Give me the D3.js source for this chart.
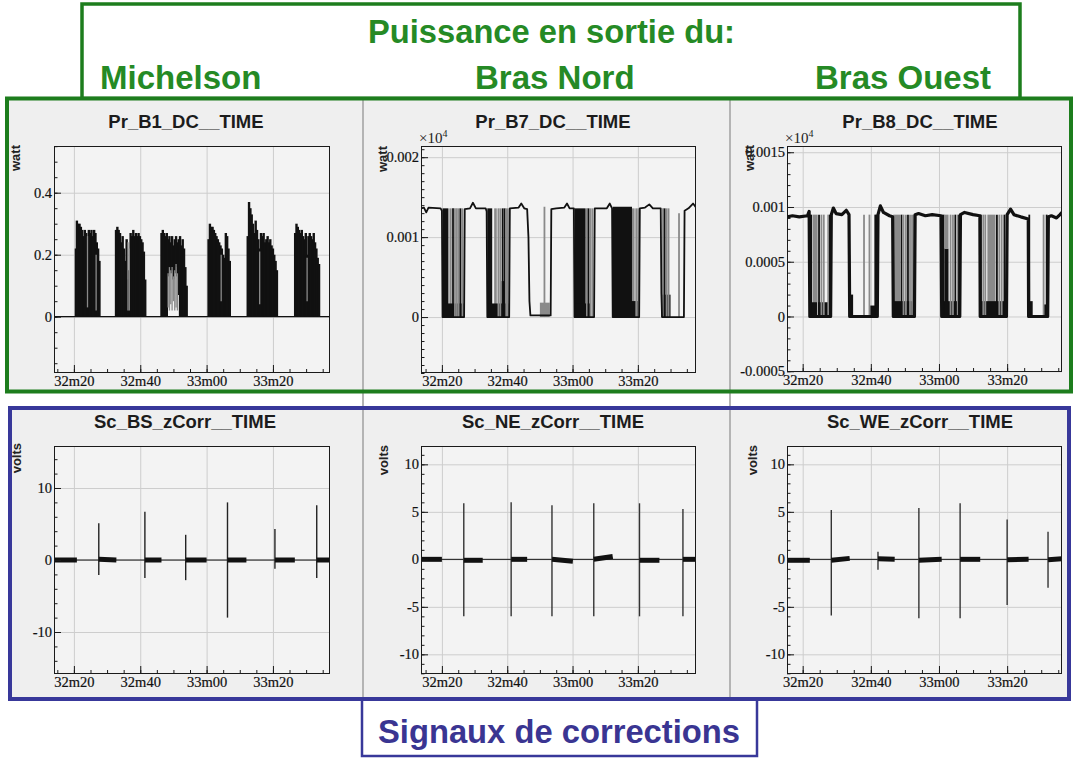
<!DOCTYPE html>
<html><head><meta charset="utf-8">
<script src="https://cdn.jsdelivr.net/npm/d3@7"></script>
<style>
html,body{margin:0;padding:0;background:#fff;}
svg{display:block;}
.tl{font-family:"Liberation Serif","DejaVu Serif","Times New Roman",serif;}
.sa{font-family:"Liberation Sans",Arial,sans-serif;}
</style></head><body>
<svg id="c" width="1078" height="758"></svg>
<script>
// ================= DATA =================
const timeTickLabels = ["32m20","32m40","33m00","33m20"];
const timeTickSeconds = [20, 40, 60, 80];           // seconds after 32m00
const headerTitle = "Puissance en sortie du:";
const headerNames = ["Michelson","Bras Nord","Bras Ouest"];
const footerTitle = "Signaux de corrections";
const panelTitles = ["Pr_B1_DC__TIME","Pr_B7_DC__TIME","Pr_B8_DC__TIME",
                     "Sc_BS_zCorr__TIME","Sc_NE_zCorr__TIME","Sc_WE_zCorr__TIME"];
const yAxisTitles = ["watt","watt","watt","volts","volts","volts"];

const b1YTicks = [0, 0.2, 0.4];
const b7YTicks = [0, 0.001, 0.002];
const b8YTicks = [-0.0005, 0, 0.0005, 0.001, 0.0015];
const bsYTicks = [-10, 0, 10];
const neYTicks = [-10, -5, 0, 5, 10];
const weYTicks = [-10, -5, 0, 5, 10];

// ---- Pr_B1_DC (Michelson) : baseline + dense bursts [t, lo, hi]
const b1Trace = [[14.0,0],[97.2,0]];
const b1Spikes = [
 [20.6,0,0.22],[20.9,0,0.31],[21.3,0,0.30],[21.7,0,0.30],[22.1,0,0.29],[22.5,0,0.28],[22.9,0,0.26],[23.3,0,0.28],[23.7,0,0.27],[24.1,0,0.21],[24.5,0,0.28],[24.9,0,0.27],[25.3,0,0.28],[25.7,0,0.26],[26.1,0,0.28],[26.5,0,0.27],[26.9,0,0.24],[27.3,0,0.22],[27.7,0,0.18],
 [32.7,0,0.28],[33.1,0,0.29],[33.5,0,0.28],[33.9,0,0.27],[34.3,0,0.24],[34.7,0,0.26],[35.1,0,0.22],[35.5,0,0.18],[35.9,0,0.25],[36.3,0,0.12],[36.7,0,0.15],[37.1,0,0.27],[37.5,0,0.26],[37.9,0,0.28],[38.3,0,0.26],[38.7,0,0.27],[39.1,0,0.26],[39.5,0,0.27],[39.9,0,0.26],[40.3,0,0.25],[40.7,0,0.24],[41.1,0,0.21],[41.5,0,0.12],
 [46.4,0,0.27],[46.8,0,0.28],[47.2,0,0.27],[47.6,0,0.26],[48.0,0,0.27],[48.4,0.13,0.25],[48.8,0.15,0.26],[49.2,0.14,0.24],[49.6,0.15,0.26],[50.0,0.12,0.23],[50.4,0.14,0.25],[50.8,0.16,0.26],[51.2,0.13,0.24],[51.6,0.07,0.25],[52.0,0,0.26],[52.4,0,0.23],[52.8,0,0.25],[53.2,0,0.22],[53.6,0,0.16],[54.0,0,0.10],
 [60.6,0,0.25],[61.0,0,0.30],[61.4,0,0.29],[61.8,0,0.29],[62.2,0,0.28],[62.6,0,0.27],[63.0,0,0.26],[63.4,0,0.25],[63.8,0,0.24],[64.2,0,0.23],[64.6,0,0.22],[65.0,0,0.20],[65.4,0,0.19],[65.8,0,0.27],[66.2,0,0.26],[66.6,0,0.22],[67.0,0,0.18],
 [72.4,0,0.26],[72.8,0,0.37],[73.2,0,0.35],[73.6,0,0.33],[74.0,0,0.30],[74.4,0,0.27],[74.8,0,0.31],[75.2,0,0.28],[75.6,0,0.25],[76.0,0,0.22],[76.4,0,0.27],[76.8,0,0.26],[77.2,0,0.27],[77.6,0,0.24],[78.0,0,0.25],[78.4,0,0.26],[78.8,0,0.24],[79.2,0,0.25],[79.6,0,0.23],[80.0,0,0.22],[80.4,0,0.20],[80.8,0,0.18],[81.2,0,0.15],
 [86.7,0,0.27],[87.1,0,0.30],[87.5,0,0.29],[87.9,0,0.28],[88.3,0,0.27],[88.7,0,0.28],[89.1,0,0.26],[89.5,0,0.25],[89.9,0,0.27],[90.3,0,0.20],[90.7,0,0.26],[91.1,0,0.27],[91.5,0,0.26],[91.9,0,0.25],[92.3,0,0.27],[92.7,0,0.24],[93.1,0,0.22],[93.5,0,0.19],[93.9,0,0.17]
];
const b1GrayLines = [
 [24.1,0.03,0.26],[26.7,0.02,0.20],[36.3,0.02,0.24],[36.7,0.02,0.22],
 [48.4,0.03,0.14],[48.8,0.02,0.16],[49.2,0.04,0.15],[49.6,0.02,0.16],[50.0,0.05,0.13],[50.4,0.02,0.15],[50.8,0.03,0.17],[51.2,0.02,0.14],
 [64.4,0.05,0.20],[76.0,0.04,0.21],[90.3,0.05,0.19]
];

// ---- Pr_B7_DC (Bras Nord) : trace [t, W], blocks [t0,t1,lo,hi,shade], lines [t,lo,hi,shade]
const b7Trace = [
 [13.6,1.36e-3],[14.5,1.37e-3],[15.2,1.31e-3],[15.9,1.37e-3],[19.6,1.36e-3],[20.0,1.33e-3],[20.2,0],[26.8,0],
 [27.0,1.35e-3],[28.6,1.36e-3],[29.5,1.43e-3],[30.4,1.36e-3],[33.4,1.36e-3],[33.7,1.32e-3],[33.9,0],[40.6,0],
 [40.8,1.36e-3],[43.5,1.37e-3],[44.3,1.42e-3],[45.2,1.36e-3],[46.1,1.35e-3],[46.5,1.0e-3],[46.8,0.2e-3],[47.1,0.02e-3],[53.3,0.02e-3],
 [53.5,1.35e-3],[55.0,1.36e-3],[57.5,1.37e-3],[58.3,1.42e-3],[59.1,1.36e-3],[60.4,1.36e-3],[60.6,0],[66.6,0],
 [66.8,1.36e-3],[70.5,1.36e-3],[71.4,1.42e-3],[72.1,1.36e-3],[72.3,0],[80.4,0],
 [80.6,1.36e-3],[82.2,1.37e-3],[83.5,1.41e-3],[84.6,1.36e-3],[87.0,1.36e-3],[87.2,0.3e-3],[87.4,0],[94.1,0],
 [94.3,1.33e-3],[95.5,1.36e-3],[96.9,1.42e-3],[97.8,1.37e-3]
];
const b7Blocks = [
 [20.2,22.0,0,1.36e-3,0],[22.3,23.0,0,1.36e-3,1],[20.2,26.6,0,0.17e-3,0],
 [33.9,35.4,0,1.36e-3,0],[36.0,36.8,0,1.36e-3,1],[33.9,40.4,0,0.17e-3,0],[38.3,39.3,0,0.45e-3,0],
 [50.0,53.0,0,0.18e-3,1],
 [60.6,64.0,0,1.36e-3,0],[60.6,65.6,0,0.17e-3,0],
 [72.3,78.2,0,1.38e-3,0],[78.2,79.0,0,1.36e-3,1],[72.3,80.3,0,0.20e-3,0],
 [87.2,90.0,0,0.28e-3,0]
];
const b7Lines = [
 [23.4,0,1.36e-3,0],[24.0,0,1.36e-3,1],[24.6,0,1.36e-3,1],[25.2,0,1.36e-3,1],[25.7,0,1.36e-3,0],[26.3,0,1.36e-3,1],
 [37.3,0,1.36e-3,1],[37.9,0,1.36e-3,1],[38.6,0,1.36e-3,0],[39.2,0,1.36e-3,0],[39.7,0,1.36e-3,1],[40.2,0,1.36e-3,1],
 [51.4,0,1.38e-3,1],
 [64.4,0,1.36e-3,1],[64.9,0,1.36e-3,0],[65.5,0,1.36e-3,1],[66.1,0,1.36e-3,1],
 [79.5,0,1.36e-3,1],[80.1,0,1.36e-3,1],
 [87.7,0,1.36e-3,1],[88.2,0,1.36e-3,0],[88.8,0,1.36e-3,1],[89.4,0,1.36e-3,1],[92.6,0,1.30e-3,1]
];

// ---- Pr_B8_DC (Bras Ouest)
const b8Trace = [
 [15.4,0.91e-3],[17.0,0.92e-3],[19.0,0.91e-3],[21.4,0.92e-3],[21.9,0.96e-3],[22.1,0],[28.2,0],
 [28.4,0.93e-3],[29.0,0.99e-3],[29.8,0.94e-3],[31.5,0.93e-3],[32.8,0.97e-3],[33.6,0.93e-3],[33.8,0],[41.9,0],
 [42.1,0.93e-3],[42.8,1.01e-3],[43.7,0.95e-3],[45.5,0.92e-3],[46.4,0.91e-3],[46.6,0],[52.8,0],
 [53.0,0.93e-3],[54.0,0.94e-3],[56.0,0.92e-3],[58.0,0.93e-3],[60.6,0.92e-3],[60.8,0],[66.1,0],
 [66.3,0.93e-3],[67.5,0.95e-3],[70.0,0.93e-3],[72.0,0.92e-3],[72.1,0],[79.8,0],
 [80.0,0.93e-3],[81.0,0.98e-3],[82.0,0.93e-3],[84.0,0.91e-3],[86.2,0.89e-3],[86.3,0],[91.9,0],
 [92.1,0.91e-3],[93.0,0.92e-3],[94.5,0.90e-3],[95.5,0.93e-3],[96.1,0.95e-3]
];
const b8Blocks = [
 [22.1,22.8,0,0.93e-3,0],[23.0,24.4,0,0.93e-3,1],[22.1,24.2,0,0.13e-3,0],[24.5,28.2,0,0.13e-3,0],
 [33.8,34.8,0,0.20e-3,0],[39.8,42.0,0,0.10e-3,0],
 [46.6,48.6,0,0.93e-3,1],[46.6,52.8,0,0.14e-3,0],
 [60.8,61.6,0,0.93e-3,0],[61.0,66.0,0,0.14e-3,0],[61.6,62.8,0,0.62e-3,0],[61.6,62.8,0.62e-3,0.93e-3,1],
 [74.2,76.6,0,0.93e-3,1],[72.1,79.8,0,0.14e-3,0],
 [86.3,87.5,0,0.14e-3,0],[90.8,92.0,0,0.11e-3,0]
];
const b8Lines = [
 [24.8,0,0.93e-3,0],[25.5,0,0.93e-3,1],[26.2,0,0.93e-3,1],[27.5,0,0.93e-3,1],[28.0,0,0.93e-3,0],
 [38.0,0,0.93e-3,1],[39.6,0,0.93e-3,1],[41.3,0,0.93e-3,0],[41.7,0,0.93e-3,0],
 [49.0,0,0.93e-3,0],[49.6,0,0.93e-3,1],[50.3,0,0.93e-3,1],[50.9,0,0.93e-3,0],[51.5,0,0.93e-3,1],[52.1,0,0.93e-3,1],[52.6,0,0.93e-3,1],
 [63.4,0,0.93e-3,1],[64.1,0,0.93e-3,1],[64.8,0,0.93e-3,0],[65.5,0,0.93e-3,1],[65.9,0,0.93e-3,0],
 [72.3,0,0.93e-3,0],[73.0,0,0.93e-3,1],[73.6,0,0.93e-3,1],[77.0,0,0.93e-3,0],[77.7,0,0.93e-3,1],[78.4,0,0.93e-3,1],[79.2,0,0.93e-3,0],
 [86.5,0,0.93e-3,0],[90.7,0,0.93e-3,1],[91.6,0,0.93e-3,0]
];

// ---- correction signals: spikes [t, min, max], noisy segments [t0, t1, v0, v1]
const bsTrace = [[14.0,0],[97.2,0]];
const bsSpikes = [[27.5,-2.1,5.1],[41.4,-2.5,6.7],[53.7,-2.8,3.5],[66.3,-8.0,8.0],[80.6,-1.2,4.3],[93.2,-2.5,7.6]];
const bsBlobs = [[14.3,20.9,0,0],[27.5,32.8,0.1,0],[41.4,46.4,0,0],[53.7,60.0,0,0],[66.3,72.0,0,0],[80.6,86.6,0,0],[93.2,97.2,0,0]];

const neTrace = [[13.6,0],[97.8,0]];
const neSpikes = [[26.7,-6.0,5.9],[41.2,-6.0,6.0],[53.7,-6.0,5.7],[66.5,-6.0,5.9],[80.5,-6.0,5.9],[93.8,-6.0,5.3]];
const neBlobs = [[13.7,20.0,0,0],[26.7,32.5,-0.1,-0.1],[41.2,46.1,0,0],[53.7,60.1,0,-0.2],[66.5,72.3,0,0.3],[80.5,86.6,-0.1,-0.1],[93.8,97.8,0,0]];

const weTrace = [[15.4,0],[96.1,0]];
const weSpikes = [[28.4,-5.9,5.2],[42.1,-1.1,0.8],[54.1,-6.2,5.4],[66.2,-6.2,5.9],[80.0,-4.8,4.2],[92.0,-3.0,2.9]];
const weBlobs = [[15.7,22.1,-0.1,-0.1],[28.4,33.8,-0.1,0.1],[42.1,47.0,0.05,0],[54.1,60.8,-0.1,0],[66.2,72.1,0,0],[80.0,86.3,-0.05,0],[92.0,96.1,-0.05,0.05]];

// ================= LAYOUT / STYLE =================
const GREEN = "#1d7d1d", GREEN_TXT = "#258a25", BLUE = "#38389a", BLUE_TXT = "#3a3592";
const PANEL_BG = "#efefef";
const SHADES = ["#111", "#8a8a8a"];

const panels = [
 {frame:[54,146,330,373],  xDomain:[14.0,97.2], yDomain:[-0.1816,0.5506], yTicks:b1YTicks, minor:0.05,   title:[186,127.5], yTitle:[20,145],  exp:null},
 {frame:[421,146,696,373], xDomain:[13.6,97.8], yDomain:[-0.0007,0.00214], yTicks:b7YTicks, minor:0.0001, title:[553,127.5], yTitle:[387,146], exp:[419,143]},
 {frame:[787,146,1062,372],xDomain:[15.4,96.1], yDomain:[-0.000507,0.001557], yTicks:b8YTicks, minor:0.0001, title:[920,127.5], yTitle:[754,145], exp:[785,143]},
 {frame:[54,446,330,674],  xDomain:[14.0,97.2], yDomain:[-15.83,15.83], yTicks:bsYTicks, minor:2, title:[185,428], yTitle:[21,443],  exp:null},
 {frame:[421,446,696,674], xDomain:[13.6,97.8], yDomain:[-12.07,11.93], yTicks:neYTicks, minor:1, title:[553,428], yTitle:[388,445], exp:null},
 {frame:[787,446,1062,674],xDomain:[15.4,96.1], yDomain:[-12.07,11.93], yTicks:weYTicks, minor:1, title:[920,428], yTitle:[757,445], exp:null}
];

const svg = d3.select("#c");
const defs = svg.append("defs");

// header box
svg.append("rect").attr("x",82).attr("y",4).attr("width",938).attr("height",94.5)
  .attr("fill","#fff").attr("stroke",GREEN).attr("stroke-width",3.5);
svg.append("text").attr("class","sa").attr("x",368).attr("y",43).text(headerTitle)
  .attr("font-weight","bold")
  .attr("font-size",33).attr("fill",GREEN_TXT).attr("textLength",367).attr("lengthAdjust","spacingAndGlyphs");
const headerX = [100, 475, 815];
headerNames.forEach((n,i)=>{
  svg.append("text").attr("class","sa").attr("x",headerX[i]).attr("y",89).text(n)
    .attr("font-weight","bold").attr("font-size",33).attr("fill",GREEN_TXT);
});

// box backgrounds
svg.append("rect").attr("x",7).attr("y",98.5).attr("width",1064).attr("height",293).attr("fill",PANEL_BG);
svg.append("rect").attr("x",10).attr("y",408).attr("width",1059).attr("height",291).attr("fill",PANEL_BG);
// panel separators
[363,730].forEach(xx=>{
  svg.append("line").attr("x1",xx).attr("x2",xx).attr("y1",100).attr("y2",697)
    .attr("stroke","#b4b4b4").attr("stroke-width",2);
});

const fmt = d => String(d);

function styleLabels(s){
  s.attr("font-family",null);
  s.selectAll("text").attr("class","tl").attr("font-size",14.5)
    .attr("fill","#111").attr("stroke","#111").attr("stroke-width",0.2);
}

function drawPanel(i, drawMarks){
  const p = panels[i];
  const [x0,y0,x1,y1] = p.frame;
  const x = d3.scaleLinear().domain(p.xDomain).range([x0,x1]);
  const y = d3.scaleLinear().domain(p.yDomain).range([y1,y0]);
  const g = svg.append("g");
  g.append("rect").attr("x",x0).attr("y",y0).attr("width",x1-x0).attr("height",y1-y0).attr("fill","#f3f3f3");

  // grid
  g.append("g").attr("transform",`translate(0,${y1})`)
    .call(d3.axisBottom(x).tickValues(timeTickSeconds).tickSize(-(y1-y0)).tickFormat(""))
    .call(s=>{s.select(".domain").remove(); s.selectAll("line").attr("stroke","#cdcdcd").attr("stroke-width",1);});
  g.append("g").attr("transform",`translate(${x0},0)`)
    .call(d3.axisLeft(y).tickValues(p.yTicks).tickSize(-(x1-x0)).tickFormat(""))
    .call(s=>{s.select(".domain").remove(); s.selectAll("line").attr("stroke","#cdcdcd").attr("stroke-width",1);});

  // marks
  defs.append("clipPath").attr("id","clip"+i).append("rect")
    .attr("x",x0).attr("y",y0).attr("width",x1-x0).attr("height",y1-y0);
  const plot = g.append("g").attr("clip-path",`url(#clip${i})`);
  drawMarks(plot, x, y);

  // frame
  g.append("rect").attr("x",x0+0.5).attr("y",y0+0.5).attr("width",x1-x0-1).attr("height",y1-y0-1)
    .attr("fill","none").attr("stroke","#1a1a1a").attr("stroke-width",1);

  // minor ticks
  const [ylo,yhi] = p.yDomain;
  const yMinor = d3.range(Math.ceil(ylo/p.minor-1e-6), Math.floor(yhi/p.minor+1e-6)+1).map(k=>k*p.minor);
  g.append("g").attr("transform",`translate(${x0},0)`)
    .call(d3.axisLeft(y).tickValues(yMinor).tickSize(-3.5).tickFormat(""))
    .call(s=>{s.select(".domain").remove(); s.selectAll("line").attr("stroke","#1a1a1a");});
  const xMinor = d3.range(Math.ceil(p.xDomain[0]/5), Math.floor(p.xDomain[1]/5)+1).map(k=>k*5);
  g.append("g").attr("transform",`translate(0,${y1})`)
    .call(d3.axisBottom(x).tickValues(xMinor).tickSize(-4).tickFormat(""))
    .call(s=>{s.select(".domain").remove(); s.selectAll("line").attr("stroke","#1a1a1a");});

  // major axes with labels
  g.append("g").attr("transform",`translate(${x0},0)`)
    .call(d3.axisLeft(y).tickValues(p.yTicks).tickSize(-7).tickPadding(2).tickFormat(fmt))
    .call(s=>{s.select(".domain").remove(); s.selectAll("line").attr("stroke","#1a1a1a"); styleLabels(s);});
  g.append("g").attr("transform",`translate(0,${y1})`)
    .call(d3.axisBottom(x).tickValues(timeTickSeconds).tickSize(-8).tickPadding(3)
      .tickFormat((d,k)=>timeTickLabels[k]))
    .call(s=>{s.select(".domain").remove(); s.selectAll("line").attr("stroke","#1a1a1a"); styleLabels(s);});

  // titles
  svg.append("text").attr("class","sa").attr("x",p.title[0]).attr("y",p.title[1]).attr("text-anchor","middle")
    .attr("font-weight","bold").attr("font-size",18.5).attr("fill","#1c1c1c").text(panelTitles[i]);
  svg.append("text").attr("class","sa").attr("transform",`translate(${p.yTitle[0]},${p.yTitle[1]}) rotate(-90)`)
    .attr("text-anchor","end").attr("font-weight","bold")
    .attr("font-size",13).attr("fill","#222").text(yAxisTitles[i]);
  if (p.exp){
    const t = svg.append("text").attr("class","tl").attr("x",p.exp[0]).attr("y",p.exp[1])
      .attr("font-size",15).attr("fill","#222");
    t.append("tspan").text("×10");
    t.append("tspan").attr("dy",-6).attr("font-size",10).text("4");
  }
}

function vlines(plot, data, x, y, width, color){
  plot.append("g").selectAll("line").data(data).join("line")
    .attr("x1",d=>x(d[0])).attr("x2",d=>x(d[0]))
    .attr("y1",d=>y(d[1])).attr("y2",d=>y(d[2]))
    .attr("stroke",d=> color || SHADES[d[3]]).attr("stroke-width",width);
}
function blocks(plot, data, x, y){
  plot.append("g").selectAll("rect").data(data).join("rect")
    .attr("x",d=>x(d[0])).attr("width",d=>x(d[1])-x(d[0]))
    .attr("y",d=>y(d[3])).attr("height",d=>y(d[2])-y(d[3]))
    .attr("fill",d=>SHADES[d[4]]);
}
function trace(plot, data, x, y, width){
  const line = d3.line().x(d=>x(d[0])).y(d=>y(d[1]));
  plot.append("path").datum(data).attr("d",line).attr("fill","none")
    .attr("stroke","#111").attr("stroke-width",width).attr("stroke-linejoin","round");
}
function blobs(plot, data, x, y){
  const line = d3.line().x(d=>x(d[0])).y(d=>y(d[1]));
  plot.append("g").selectAll("path").data(data).join("path")
    .attr("d",d=>line([[d[0],d[2]],[d[1],d[3]]]))
    .attr("fill","none").attr("stroke","#111").attr("stroke-width",5);
}

drawPanel(0,(plot,x,y)=>{
  trace(plot,b1Trace,x,y,1.2);
  vlines(plot,b1Spikes,x,y,2.4,"#111");
  vlines(plot,b1GrayLines,x,y,1.3,"#8a8a8a");
});
drawPanel(1,(plot,x,y)=>{
  blocks(plot,b7Blocks,x,y);
  vlines(plot,b7Lines,x,y,1.8);
  trace(plot,b7Trace,x,y,1.8);
});
drawPanel(2,(plot,x,y)=>{
  blocks(plot,b8Blocks,x,y);
  vlines(plot,b8Lines,x,y,1.8);
  trace(plot,b8Trace,x,y,3.2);
});
drawPanel(3,(plot,x,y)=>{
  trace(plot,bsTrace,x,y,1);
  vlines(plot,bsSpikes,x,y,1.4,"#222");
  blobs(plot,bsBlobs,x,y);
});
drawPanel(4,(plot,x,y)=>{
  trace(plot,neTrace,x,y,1);
  vlines(plot,neSpikes,x,y,1.4,"#333");
  blobs(plot,neBlobs,x,y);
});
drawPanel(5,(plot,x,y)=>{
  trace(plot,weTrace,x,y,1);
  vlines(plot,weSpikes,x,y,1.4,"#333");
  blobs(plot,weBlobs,x,y);
});

// outer boxes (on top)
svg.append("rect").attr("x",7).attr("y",98.5).attr("width",1064).attr("height",293)
  .attr("fill","none").attr("stroke",GREEN).attr("stroke-width",4);
svg.append("rect").attr("x",362).attr("y",699).attr("width",395).attr("height",57)
  .attr("fill","#fff").attr("stroke",BLUE).attr("stroke-width",2.5);
svg.append("rect").attr("x",10).attr("y",408).attr("width",1059).attr("height",291)
  .attr("fill","none").attr("stroke",BLUE).attr("stroke-width",4);
svg.append("text").attr("class","sa").attr("x",378).attr("y",743).text(footerTitle)
  .attr("font-weight","bold").attr("font-size",33).attr("fill",BLUE_TXT)
  .attr("textLength",362).attr("lengthAdjust","spacingAndGlyphs");
</script>
</body></html>
